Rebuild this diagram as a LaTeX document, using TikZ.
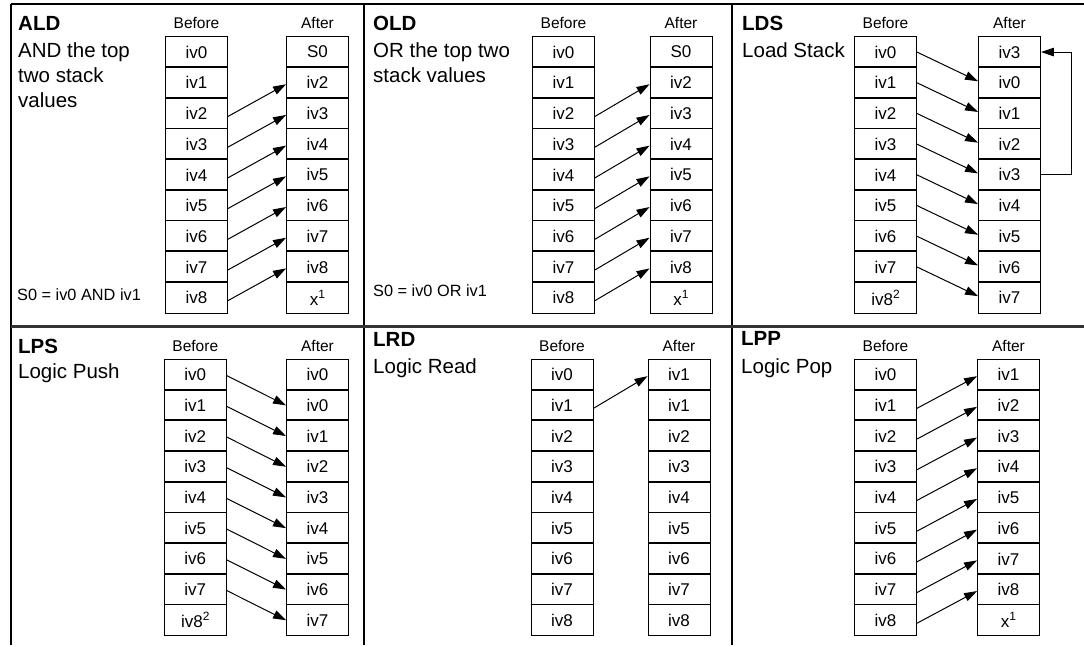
\documentclass[tikz,border=0pt]{standalone}
\usepackage{fontspec}
\setmainfont{Liberation Sans}
\usetikzlibrary{arrows.meta}
\newcommand{\mysup}[1]{\raisebox{0.42em}{\fontsize{12}{12}\selectfont #1}}
\tikzset{
  cell/.style={draw, line width=0.9pt, minimum width=62pt, minimum height=30.7pt, inner sep=0pt, font=\fontsize{17}{17}\selectfont},
  sepline/.style={line width=1.6pt},
  lbl/.style={inner sep=0pt, anchor=base, font=\fontsize{15.5}{15.5}\selectfont},
  note/.style={inner sep=0pt, anchor=base west, font=\fontsize{16.3}{16.3}\selectfont},
  ttl/.style={inner sep=0pt, anchor=base west, font=\fontsize{20.5}{25}\selectfont\bfseries},
  desc/.style={inner sep=0pt, anchor=north west, align=left, font=\fontsize{20.5}{25}\selectfont},
  arr/.style={line width=1pt, -{Triangle[length=13pt,width=8.5pt]}},
  frame/.style={line width=1.6pt}
}
\newcommand{\mystack}[4]{%
  \foreach \t [count=\i from 0] in {#4} {
    \node[cell] (#1\i) at (#2, {#3 + (\i+0.5)*30.7}) {\t};
  }
  \foreach \i in {1,...,8} {
    \draw[sepline] (#1\i.north west) -- (#1\i.north east);
  }
}
\begin{document}
\begin{tikzpicture}[x=1pt, y=-1pt]
\useasboundingbox (0,0) rectangle (1084,647);
\fill[white] (0,0) rectangle (1084,647);
% frame
\draw[line width=1.3pt] (11,4) -- (1084,4);
\draw[frame] (11,4) -- (11,645);
\draw[frame] (364,4) -- (364,645);
\draw[frame] (732,4) -- (732,645);
\draw[line width=2.6pt, black!80] (11,326.7) -- (1084,326.7);

% ===== ALD =====
\node[ttl] (aldT) at (18,30.7) {ALD};
\node[desc] (aldD) at (18,42) {AND the top\\two stack\\values};
\node[note] (aldN) at (17,300) {S0 = iv0 AND iv1};
\node[lbl] (aldB) at (196.5,28.3) {Before};
\node[lbl] (aldA) at (317.5,28.3) {After};
\mystack{Ab}{196.5}{36.7}{iv0,iv1,iv2,iv3,iv4,iv5,iv6,iv7,iv8}
\mystack{Aa}{317.5}{36.7}{S0,iv2,iv3,iv4,iv5,iv6,iv7,iv8,x\mysup{1}}
\foreach \i in {2,...,8} {
  \pgfmathtruncatemacro\j{\i-1}
  \draw[arr] ([yshift=-3pt]Ab\i.east) -- ([yshift=-1.5pt]Aa\j.west);
}

% ===== OLD =====
\node[ttl] (oldT) at (373,30.7) {OLD};
\node[desc] (oldD) at (373,42) {OR the top two\\stack values};
\node[note] (oldN) at (373,296.7) {S0 = iv0 OR iv1};
\node[lbl] (oldB) at (563.5,28.3) {Before};
\node[lbl] (oldA) at (681,28.3) {After};
\mystack{Ob}{563.5}{36.7}{iv0,iv1,iv2,iv3,iv4,iv5,iv6,iv7,iv8}
\mystack{Oa}{681}{36.7}{S0,iv2,iv3,iv4,iv5,iv6,iv7,iv8,x\mysup{1}}
\foreach \i in {2,...,8} {
  \pgfmathtruncatemacro\j{\i-1}
  \draw[arr] ([yshift=-3pt]Ob\i.east) -- ([yshift=-1.5pt]Oa\j.west);
}

% ===== LDS =====
\node[ttl] (ldsT) at (742,30.7) {LDS};
\node[desc] (ldsD) at (742,42.7) {Load Stack};
\node[lbl] (ldsB) at (885.5,28.3) {Before};
\node[lbl] (ldsA) at (1009.5,28.3) {After};
\mystack{Db}{885.5}{36.7}{iv0,iv1,iv2,iv3,iv4,iv5,iv6,iv7,iv8\mysup{2}}
\mystack{Da}{1009.5}{36.7}{iv3,iv0,iv1,iv2,iv3,iv4,iv5,iv6,iv7}
\foreach \i in {0,...,7} {
  \pgfmathtruncatemacro\j{\i+1}
  \draw[arr] (Db\i.east) -- ([yshift=1.5pt]Da\j.west);
}
\coordinate (fbR) at (1071,0);
\draw[arr] (Da4.east) -| (fbR |- Da0.east) -- (Da0.east);

% ===== LPS =====
\node[ttl] (lpsT) at (18,353.3) {LPS};
\node[desc] (lpsD) at (18,363.7) {Logic Push};
\node[lbl] (lpsB) at (195.3,351.5) {Before};
\node[lbl] (lpsA) at (317.5,351.5) {After};
\mystack{Pb}{195.3}{359.3}{iv0,iv1,iv2,iv3,iv4,iv5,iv6,iv7,iv8\mysup{2}}
\mystack{Pa}{317.5}{359.3}{iv0,iv0,iv1,iv2,iv3,iv4,iv5,iv6,iv7}
\foreach \i in {0,...,7} {
  \pgfmathtruncatemacro\j{\i+1}
  \draw[arr] ([yshift=-1pt]Pb\i.east) -- (Pa\j.west);
}

% ===== LRD =====
\node[ttl] (lrdT) at (373,346.7) {LRD};
\node[desc] (lrdD) at (373,358.7) {Logic Read};
\node[lbl] (lrdB) at (562,351.5) {Before};
\node[lbl] (lrdA) at (679,351.5) {After};
\mystack{Rb}{562}{359.3}{iv0,iv1,iv2,iv3,iv4,iv5,iv6,iv7,iv8}
\mystack{Ra}{679}{359.3}{iv1,iv1,iv2,iv3,iv4,iv5,iv6,iv7,iv8}
\draw[arr] ([yshift=-3pt]Rb1.east) -- ([yshift=-1.5pt]Ra0.west);

% ===== LPP =====
\node[ttl] (lppT) at (741,345) {LPP};
\node[desc] (lppD) at (741,358.7) {Logic Pop};
\node[lbl] (lppB) at (885.5,351.5) {Before};
\node[lbl] (lppA) at (1008.5,351.5) {After};
\mystack{Lb}{885.5}{359.3}{iv0,iv1,iv2,iv3,iv4,iv5,iv6,iv7,iv8}
\mystack{La}{1008.5}{359.3}{iv1,iv2,iv3,iv4,iv5,iv6,iv7,iv8,x\mysup{1}}
\foreach \i in {1,...,8} {
  \pgfmathtruncatemacro\j{\i-1}
  \draw[arr] ([yshift=-3pt]Lb\i.east) -- ([yshift=-1.5pt]La\j.west);
}
\end{tikzpicture}
\end{document}
